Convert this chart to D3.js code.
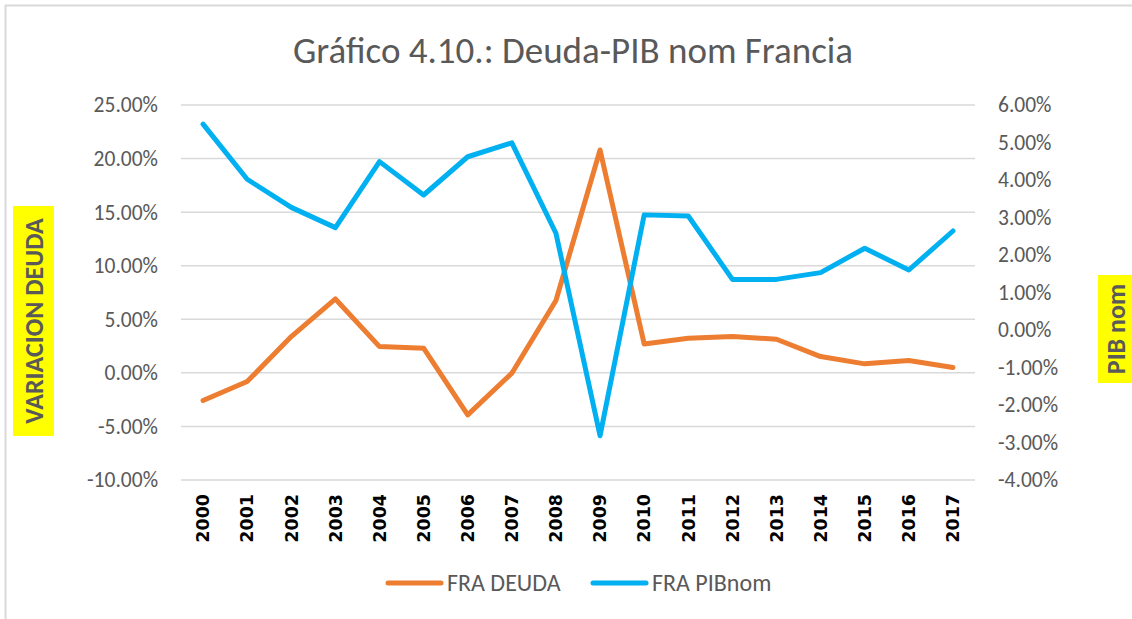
<!DOCTYPE html>
<html>
<head>
<meta charset="utf-8">
<script src="https://cdn.jsdelivr.net/npm/d3@7"></script>
<style>
  body { margin: 0; background: #fff; }
  svg { display: block; }
</style>
</head>
<body>
<div id="chart"></div>
<script>
// data
const years = ["2000", "2001", "2002", "2003", "2004", "2005", "2006", "2007", "2008",
  "2009", "2010", "2011", "2012", "2013", "2014", "2015", "2016", "2017"];
const fraDeuda = [-2.58, -0.81, 3.39, 6.90, 2.45, 2.30, -3.92, -0.03, 6.75,
  20.8, 2.70, 3.23, 3.39, 3.14, 1.52, 0.84, 1.15, 0.50];
const fraPibNom = [5.49, 4.02, 3.27, 2.73, 4.49, 3.60, 4.62, 4.99, 2.58,
  -2.82, 3.07, 3.04, 1.35, 1.35, 1.53, 2.18, 1.60, 2.64];
const leftTicks = [-10, -5, 0, 5, 10, 15, 20, 25];
const rightTicks = [-4, -3, -2, -1, 0, 1, 2, 3, 4, 5, 6];

const width = 1132, height = 619;
const font = "Calibri, Carlito, Lato, 'Open Sans', sans-serif";
const grey = "#595959";
const orange = "#ed7d31", blue = "#00b0f0";
const plot = { left: 181, right: 975, top: 105, bottom: 480 };

// excel style percent, plain hyphen for negatives
const pct = d => (d < 0 ? "-" : "") + Math.abs(d).toFixed(2) + "%";

const svg = d3.select("#chart").append("svg")
  .attr("width", width)
  .attr("height", height)
  .attr("font-family", font);

// chart frame (only top and left edges are visible)
svg.append("path")
  .attr("d", `M5.5,${height} V5.5 H${width}`)
  .attr("fill", "none")
  .attr("stroke", "#d9d9d9")
  .attr("stroke-width", 2);

// title
svg.append("text")
  .attr("x", 573)
  .attr("y", 63)
  .attr("text-anchor", "middle")
  .attr("font-size", 37)
  .attr("fill", grey)
  .text("Gráfico 4.10.: Deuda-PIB nom Francia");

const x = d3.scaleBand()
  .domain(years)
  .range([plot.left, plot.right]);

const yLeft = d3.scaleLinear()
  .domain([-10, 25])
  .range([plot.bottom, plot.top]);

const yRight = d3.scaleLinear()
  .domain([-4, 6])
  .range([plot.bottom, plot.top]);

// gridlines
svg.append("g")
  .selectAll("line")
  .data(leftTicks)
  .join("line")
  .attr("x1", plot.left)
  .attr("x2", plot.right)
  .attr("y1", d => yLeft(d))
  .attr("y2", d => yLeft(d))
  .attr("stroke", "#d9d9d9")
  .attr("stroke-width", 1.5);

// left axis
const leftAxis = svg.append("g")
  .attr("transform", `translate(${plot.left},0)`)
  .call(d3.axisLeft(yLeft).tickValues(leftTicks).tickSize(0).tickPadding(23)
    .tickFormat(pct));
leftAxis.select(".domain").remove();
leftAxis.selectAll("text")
  .attr("font-size", 21.5)
  .attr("font-family", font)
  .attr("fill", grey);

// right axis
const rightAxis = svg.append("g")
  .attr("transform", `translate(${plot.right},0)`)
  .call(d3.axisRight(yRight).tickValues(rightTicks).tickSize(0).tickPadding(23)
    .tickFormat(pct));
rightAxis.select(".domain").remove();
rightAxis.selectAll("text")
  .attr("font-size", 21.5)
  .attr("font-family", font)
  .attr("fill", grey);

// year labels, rotated and bold
const xAxis = svg.append("g")
  .attr("transform", `translate(0,${plot.bottom})`)
  .call(d3.axisBottom(x).tickSize(0).tickPadding(0));
xAxis.select(".domain").remove();
xAxis.selectAll("text")
  .attr("font-size", 17.5)
  .attr("font-family", "'DejaVu Sans', sans-serif")
  .attr("font-weight", "bold")
  .attr("fill", "#000")
  .attr("text-anchor", "end")
  .attr("dy", "0.36em")
  .attr("transform", "translate(0,14) rotate(-90)");

// lines
const cx = d => x(d) + x.bandwidth() / 2;

const deudaLine = d3.line()
  .x((d, i) => cx(years[i]))
  .y(d => yLeft(d));

const pibLine = d3.line()
  .x((d, i) => cx(years[i]))
  .y(d => yRight(d));

svg.append("path")
  .datum(fraDeuda)
  .attr("d", deudaLine)
  .attr("fill", "none")
  .attr("stroke", orange)
  .attr("stroke-width", 5)
  .attr("stroke-linejoin", "round")
  .attr("stroke-linecap", "round");

svg.append("path")
  .datum(fraPibNom)
  .attr("d", pibLine)
  .attr("fill", "none")
  .attr("stroke", blue)
  .attr("stroke-width", 5)
  .attr("stroke-linejoin", "round")
  .attr("stroke-linecap", "round");

// axis titles with yellow highlight
function axisTitle(label, cxPos, cyPos, boxCx, boxW, boxH) {
  svg.append("rect")
    .attr("x", boxCx - boxW / 2)
    .attr("y", cyPos - boxH / 2)
    .attr("width", boxW)
    .attr("height", boxH)
    .attr("fill", "#ffff00");
  svg.append("text")
    .attr("transform", `translate(${cxPos},${cyPos}) rotate(-90)`)
    .attr("text-anchor", "middle")
    .attr("dy", "0.36em")
    .attr("font-size", 26)
    .attr("font-weight", "bold")
    .attr("fill", grey)
    .text(label);
}
axisTitle("VARIACION DEUDA", 33.5, 321, 33.5, 41, 230);
axisTitle("PIB nom", 1116, 329, 1118, 40, 108);

// legend
const legend = svg.append("g").attr("transform", "translate(0,583)");
const legendItems = [
  { label: "FRA DEUDA", color: orange, x: 386 },
  { label: "FRA PIBnom", color: blue, x: 591 }
];
legendItems.forEach(item => {
  legend.append("line")
    .attr("x1", item.x + 2)
    .attr("x2", item.x + 55)
    .attr("stroke", item.color)
    .attr("stroke-width", 5)
    .attr("stroke-linecap", "round");
  legend.append("text")
    .attr("x", item.x + 61)
    .attr("dy", "0.35em")
    .attr("font-size", 24)
    .attr("fill", grey)
    .text(item.label);
});
</script>
</body>
</html>
